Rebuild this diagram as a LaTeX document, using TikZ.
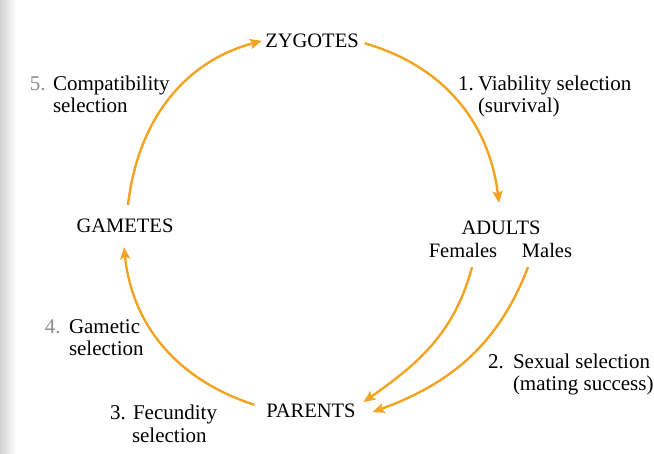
\documentclass[tikz,border=0pt]{standalone}
\usepackage{fontspec}
\setmainfont{Liberation Serif}
\usetikzlibrary{arrows.meta}
\definecolor{arrorange}{RGB}{243,163,34}
\begin{document}
\begin{tikzpicture}[x=1pt,y=1pt,
  lbl/.style={inner sep=0pt,outer sep=0pt,font=\fontsize{21}{23}\selectfont},
  stage/.style={inner sep=0pt,outer sep=0pt,font=\fontsize{20.5}{23}\selectfont},
  num/.style={lbl},
  arr/.style={draw=arrorange,line width=2.4pt,-{Stealth[length=12pt,width=10pt,inset=2.5pt]}}]
\useasboundingbox (0,0) rectangle (654,453);
\shade[left color=black!18,right color=white] (0,0) rectangle (16,453);
% stages
\node[stage,anchor=base] (zyg) at (312,405) {ZYGOTES};
\node[stage,anchor=base] (adu) at (501,218) {ADULTS};
\node[stage,anchor=base] (fem) at (463,195) {Females};
\node[stage,anchor=base] (mal) at (547,195) {Males};
\node[stage,anchor=base] (gam) at (125,220) {GAMETES};
\node[stage,anchor=base] (par) at (311,35) {PARENTS};
% labels
\node[num,anchor=base west,text=black!45] (n5) at (30,362) {5.};
\node[lbl,anchor=base west] (l5a) at (53,362) {Compatibility};
\node[lbl,anchor=base west] (l5b) at (53,340) {selection};
\node[num,anchor=base west] (n1) at (458,362) {1.};
\node[lbl,anchor=base west] (l1a) at (478,362) {Viability selection};
\node[lbl,anchor=base west] (l1b) at (478,340) {(survival)};
\node[num,anchor=base west,text=black!45] (n4) at (45,119) {4.};
\node[lbl,anchor=base west] (l4a) at (69,119) {Gametic};
\node[lbl,anchor=base west] (l4b) at (69,97) {selection};
\node[num,anchor=base west] (n2) at (488,84) {2.};
\node[lbl,anchor=base west] (l2a) at (513,84) {Sexual selection};
\node[lbl,anchor=base west] (l2b) at (513,62) {(mating success)};
\node[num,anchor=base west] (n3) at (110,33) {3.};
\node[lbl,anchor=base west] (l3a) at (133,33) {Fecundity};
\node[lbl,anchor=base west] (l3b) at (132,11) {selection};
% connectors
\draw[arr] ([shift={(6,-2)}]zyg.east) to[out=-16,in=97] ([shift={(-2,18.4)}]adu.north);
\draw[arr] ([shift={(3,14.4)}]gam.north) to[out=83.5,in=-165] ([shift={(-3.3,0.5)}]zyg.west);
\draw[arr] ([shift={(-12,6.5)}]par.west) to[out=162,in=-84] ([shift={(-1,-14)}]gam.south);
\draw[arr] ([shift={(9,-9)}]fem.south) to[out=-105,in=35] ([shift={(7.8,9.2)}]par.east);
\draw[arr] ([shift={(-19,-9)}]mal.south) to[out=-111,in=20] ([shift={(16.8,-0.8)}]par.east);
\end{tikzpicture}
\end{document}
